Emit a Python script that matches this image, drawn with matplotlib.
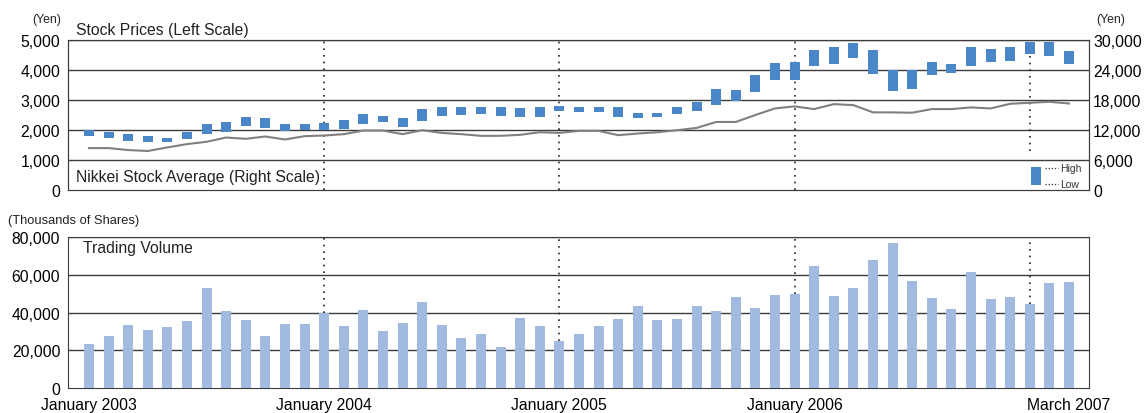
import matplotlib.pyplot as plt
from matplotlib.ticker import FuncFormatter

plt.rcParams["font.family"] = ["Liberation Sans", "DejaVu Sans"]

# monthly data, January 2003 .. March 2007
months = list(range(51))

price_high = [2004, 1927, 1861, 1795, 1729, 1927, 2192, 2258, 2423, 2390, 2192, 2192,
              2225, 2324, 2522, 2456, 2390, 2687, 2753, 2753, 2753, 2753, 2720, 2753,
              2786, 2753, 2753, 2753, 2555, 2555, 2753, 2918, 3381, 3348, 3844, 4240,
              4273, 4670, 4769, 4901, 4670, 4009, 4009, 4273, 4207, 4769, 4703, 4769,
              4934, 4934, 4637]
price_low = [1806, 1729, 1630, 1597, 1597, 1696, 1861, 1927, 2126, 2059, 1960, 1993,
             1993, 2026, 2192, 2258, 2093, 2291, 2456, 2489, 2522, 2456, 2423, 2423,
             2621, 2588, 2588, 2423, 2390, 2423, 2522, 2621, 2819, 2952, 3282, 3678,
             3678, 4141, 4207, 4405, 3877, 3315, 3381, 3844, 3910, 4141, 4273, 4306,
             4537, 4471, 4207]
nikkei = [8390, 8390, 8000, 7800, 8520, 9180, 9650, 10500, 10240, 10700, 10110, 10770,
          10900, 11170, 11890, 11890, 11170, 11960, 11430, 11170, 10840, 10840, 11040, 11560,
          11430, 11830, 11830, 10970, 11300, 11560, 11960, 12420, 13610, 13610, 15000, 16320,
          16720, 16190, 17180, 16980, 15530, 15530, 15460, 16190, 16190, 16520, 16320, 17250,
          17450, 17640, 17310]
volume = [23.5, 27.4, 33.6, 30.9, 32.5, 35.7, 53.2, 41.0, 36.2, 27.4, 34.1, 34.1,
          39.9, 33.0, 41.5, 30.4, 34.6, 45.8, 33.6, 26.7, 28.8, 21.9, 37.3, 33.0,
          25.1, 28.8, 33.0, 36.7, 43.6, 36.2, 36.7, 43.6, 41.0, 48.4, 42.6, 49.5,
          50.0, 64.8, 48.9, 53.2, 68.0, 77.0, 56.9, 47.9, 42.0, 61.7, 47.3, 48.4,
          44.7, 55.8, 56.4]
volume = [v * 1000 for v in volume]

tick_pos = [0, 12, 24, 36, 50]
tick_labels = ["January 2003", "January 2004", "January 2005", "January 2006", "March 2007"]
year_starts = [12, 24, 36, 48]

BLUE = "#4a86c8"
LIGHT = "#a3bae0"
GRID = "#3c3c3c"
FS = 11.3

comma = FuncFormatter(lambda v, p: f"{int(v):,}")

fig = plt.figure(figsize=(11.44, 4.14), dpi=100)
ax1 = fig.add_axes([0.0594, 0.5386, 0.8925, 0.3623])
ax2 = fig.add_axes([0.0594, 0.0604, 0.8925, 0.3647])
xlim = (-1.07, 51.02)

# --- STOCK PRICES ---
ax1.set_xlim(*xlim)
ax1.set_ylim(0, 5000)
ax1.set_yticks(range(0, 5001, 1000))
ax1.yaxis.set_major_formatter(comma)
ax1.set_xticks([])
for y in range(1000, 5001, 1000):
    ax1.axhline(y, color=GRID, lw=1, zorder=1)
for m in year_starts:
    top_low = 1300 if m == 48 else 0
    ax1.vlines(m, top_low, 5000, colors="#222222", linestyles=(0, (1, 3)), lw=1.2, zorder=1)
heights = [h - l for h, l in zip(price_high, price_low)]
ax1.bar(months, heights, bottom=price_low, width=0.51, color=BLUE, zorder=3)

ax1r = ax1.twinx()
ax1r.set_ylim(0, 30000)
ax1r.set_yticks(range(0, 30001, 6000))
ax1r.yaxis.set_major_formatter(comma)
ax1r.plot(months, nikkei, color="#808080", lw=1.5, zorder=2)

for a in (ax1, ax1r):
    a.tick_params(length=0, labelsize=FS)
    for s in a.spines.values():
        s.set_color(GRID)
ax1.tick_params(axis="y", pad=5.5)
ax1r.tick_params(axis="y", pad=3)

ax1.text(0.008, 1.02, "Stock Prices (Left Scale)", transform=ax1.transAxes,
         fontsize=FS, color="#222222", ha="left", va="bottom")
ax1.text(0.008, 0.09, "Nikkei Stock Average (Right Scale)", transform=ax1.transAxes,
         fontsize=FS, color="#222222", ha="left", va="center", zorder=5,
         bbox=dict(facecolor="white", edgecolor="none", pad=0.5))
fig.text(32 / 1144, 1 - 20 / 414, "(Yen)", fontsize=8.8, color="#222222", ha="left", va="center")
fig.text(1096 / 1144, 1 - 20 / 414, "(Yen)", fontsize=8.8, color="#222222", ha="left", va="center")

# legend (High / Low)
ax1.bar([0.948], [0.12], bottom=0.033, width=0.0098, color=BLUE, transform=ax1.transAxes,
        zorder=5)
ax1.plot([0.957, 0.970], [0.147, 0.147], transform=ax1.transAxes, color="#333333",
         ls=(0, (1, 1.5)), lw=0.9, zorder=5)
ax1.plot([0.957, 0.970], [0.04, 0.04], transform=ax1.transAxes, color="#333333",
         ls=(0, (1, 1.5)), lw=0.9, zorder=5)
ax1.text(0.972, 0.147, "High", transform=ax1.transAxes, fontsize=7.5, color="#333333",
         va="center", ha="left", zorder=5)
ax1.text(0.972, 0.04, "Low", transform=ax1.transAxes, fontsize=7.5, color="#333333",
         va="center", ha="left", zorder=5)

# --- TRADING VOLUME ---
ax2.set_xlim(*xlim)
ax2.set_ylim(0, 80000)
ax2.set_yticks(range(0, 80001, 20000))
ax2.yaxis.set_major_formatter(comma)
for y in range(20000, 80001, 20000):
    ax2.axhline(y, color=GRID, lw=1, zorder=1)
ax2.bar(months, volume, width=0.51, color=LIGHT, zorder=3)
for m in year_starts:
    ax2.vlines(m, volume[m], 80000, colors="#222222", linestyles=(0, (1, 3)), lw=1.2, zorder=2)
ax2.set_xticks(tick_pos)
ax2.set_xticklabels(tick_labels)
ax2.tick_params(length=0, labelsize=FS)
ax2.tick_params(axis="y", pad=5.5)
ax2.tick_params(axis="x", pad=6.5)
for s in ax2.spines.values():
    s.set_color(GRID)
ax2.text(0.015, 0.93, "Trading Volume", transform=ax2.transAxes, fontsize=FS,
         color="#222222", ha="left", va="center")
fig.text(8 / 1144, 1 - 221 / 414, "(Thousands of Shares)", fontsize=9.3, color="#222222",
         ha="left", va="center")

fig.savefig("out.png", dpi=100)
plt.close(fig)
